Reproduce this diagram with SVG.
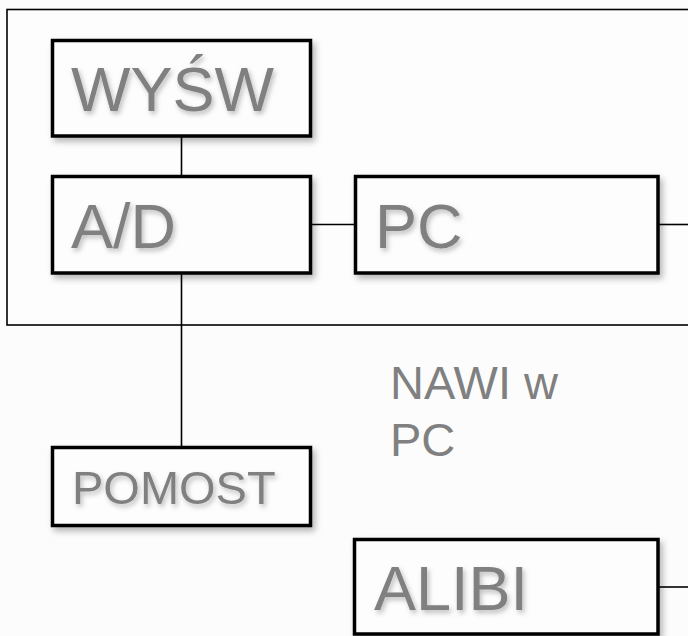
<svg xmlns="http://www.w3.org/2000/svg" width="688" height="636" viewBox="0 0 688 636">
<defs>
<filter id="sh" x="-10%" y="-20%" width="130%" height="150%">
<feDropShadow dx="3" dy="4" stdDeviation="3" flood-color="#000" flood-opacity="0.28"/>
</filter>
<filter id="tsh" x="-10%" y="-20%" width="130%" height="150%">
<feDropShadow dx="2" dy="3" stdDeviation="2.5" flood-color="#000" flood-opacity="0.25"/>
</filter>
</defs>
<style>
.box{fill:#fdfdfd;stroke:#000;stroke-width:3.5;filter:url(#sh)}
.lbl{font-family:"Liberation Sans",Arial,sans-serif;fill:#808080;filter:url(#tsh)}
.con{stroke:#000;stroke-width:1.6;fill:none}
</style>
<rect x="0" y="0" width="688" height="636" fill="#fcfcfc"/>
<g id="container">
<rect x="7" y="9.5" width="690" height="315.5" fill="#fdfdfd" stroke="#000" stroke-width="1.6"/>
</g>
<g id="connectors">
<line class="con" x1="181.5" y1="136" x2="181.5" y2="176"/>
<line class="con" x1="181.5" y1="273" x2="181.5" y2="447"/>
<line class="con" x1="311" y1="224.5" x2="355" y2="224.5"/>
<line class="con" x1="658" y1="224.5" x2="690" y2="224.5"/>
<line class="con" x1="658" y1="587" x2="690" y2="587"/>
</g>
<g id="wysw">
<rect class="box" x="52.5" y="40.5" width="258" height="95.5"/>
<text class="lbl" x="71" y="111" font-size="63">WYŚW</text>
</g>
<g id="ad">
<rect class="box" x="52.5" y="176.5" width="258" height="96.5"/>
<text class="lbl" x="71" y="248" font-size="63">A/D</text>
</g>
<g id="pc">
<rect class="box" x="355.5" y="176.5" width="302.5" height="96.5"/>
<text class="lbl" x="375" y="248" font-size="63">PC</text>
</g>
<g id="pomost">
<rect class="box" x="52.5" y="447.5" width="258" height="78"/>
<text class="lbl" x="72" y="504" font-size="47">POMOST</text>
</g>
<g id="alibi">
<rect class="box" x="354.5" y="539.5" width="303.5" height="94.5"/>
<text class="lbl" x="374" y="610" font-size="63">ALIBI</text>
</g>
<g id="nawi">
<text class="lbl" x="390" y="399" font-size="47" style="filter:none">NAWI w</text>
<text class="lbl" x="390" y="456" font-size="47" style="filter:none">PC</text>
</g>
</svg>
